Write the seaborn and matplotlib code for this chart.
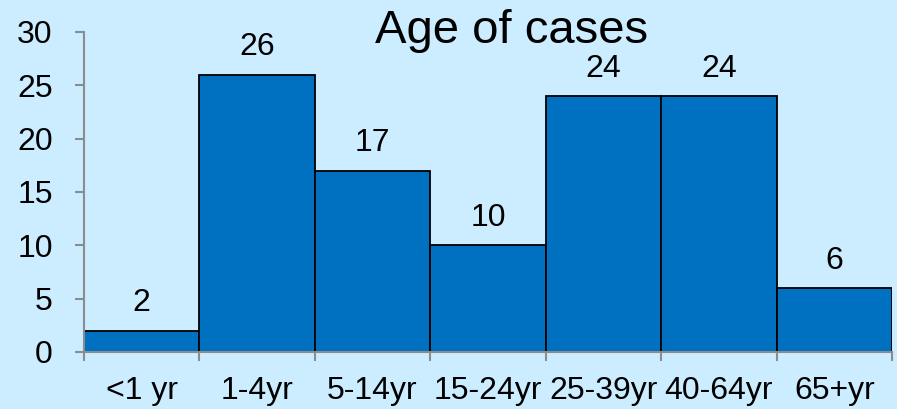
import matplotlib
matplotlib.use('Agg')
import matplotlib.pyplot as plt
import seaborn as sns
import numpy as np
import pandas as pd

# Chart data
age_groups = ['<1 yr', '1-4yr', '5-14yr', '15-24yr', '25-39yr', '40-64yr', '65+yr']
cases = [2, 26, 17, 10, 24, 24, 6]

BG = '#CCECFF'
BAR = '#0070C0'
AXIS = '#8C8C8C'

sns.set_style('white')
plt.rcParams['font.family'] = ['Liberation Sans', 'DejaVu Sans']

df = pd.DataFrame({'group': age_groups, 'cases': cases})

fig = plt.figure(figsize=(8.97, 4.09), dpi=100, facecolor=BG)
ax = fig.add_axes([0.0936, 0.1394, 0.9008, 0.7824])
ax.set_facecolor(BG)

sns.barplot(data=df, x='group', y='cases', color=BAR, width=1.0,
            edgecolor='black', linewidth=1.3, saturation=1, ax=ax)

for i, v in enumerate(cases):
    ax.text(i, v + 1.15, str(v), ha='center', va='bottom', fontsize=23, color='black')

ax.set_xlim(-0.5, len(cases) - 0.5)
ax.set_ylim(0, 30)
ax.set_yticks(range(0, 31, 5))
ax.set_xlabel('')
ax.set_ylabel('')

# category labels centred, tick marks at boundaries
ax.tick_params(axis='x', which='major', bottom=False, labelsize=23, pad=14, colors='black')
ax.set_xticks(np.arange(-0.5, len(cases), 1.0), minor=True)
ax.tick_params(axis='x', which='minor', bottom=True, length=6.5, width=1.5, color=AXIS, direction='out')
ax.tick_params(axis='y', left=True, length=6.5, width=1.5, color=AXIS, labelsize=23, pad=16, labelcolor='black')

for s in ['top', 'right']:
    ax.spines[s].set_visible(False)
for s in ['left', 'bottom']:
    ax.spines[s].set_color(AXIS)
    ax.spines[s].set_linewidth(1.5)

fig.text(512 / 897, 1 - 31 / 409, 'Age of cases', ha='center', va='center', fontsize=34, color='black')

fig.savefig('out.png', dpi=100, facecolor=BG)
